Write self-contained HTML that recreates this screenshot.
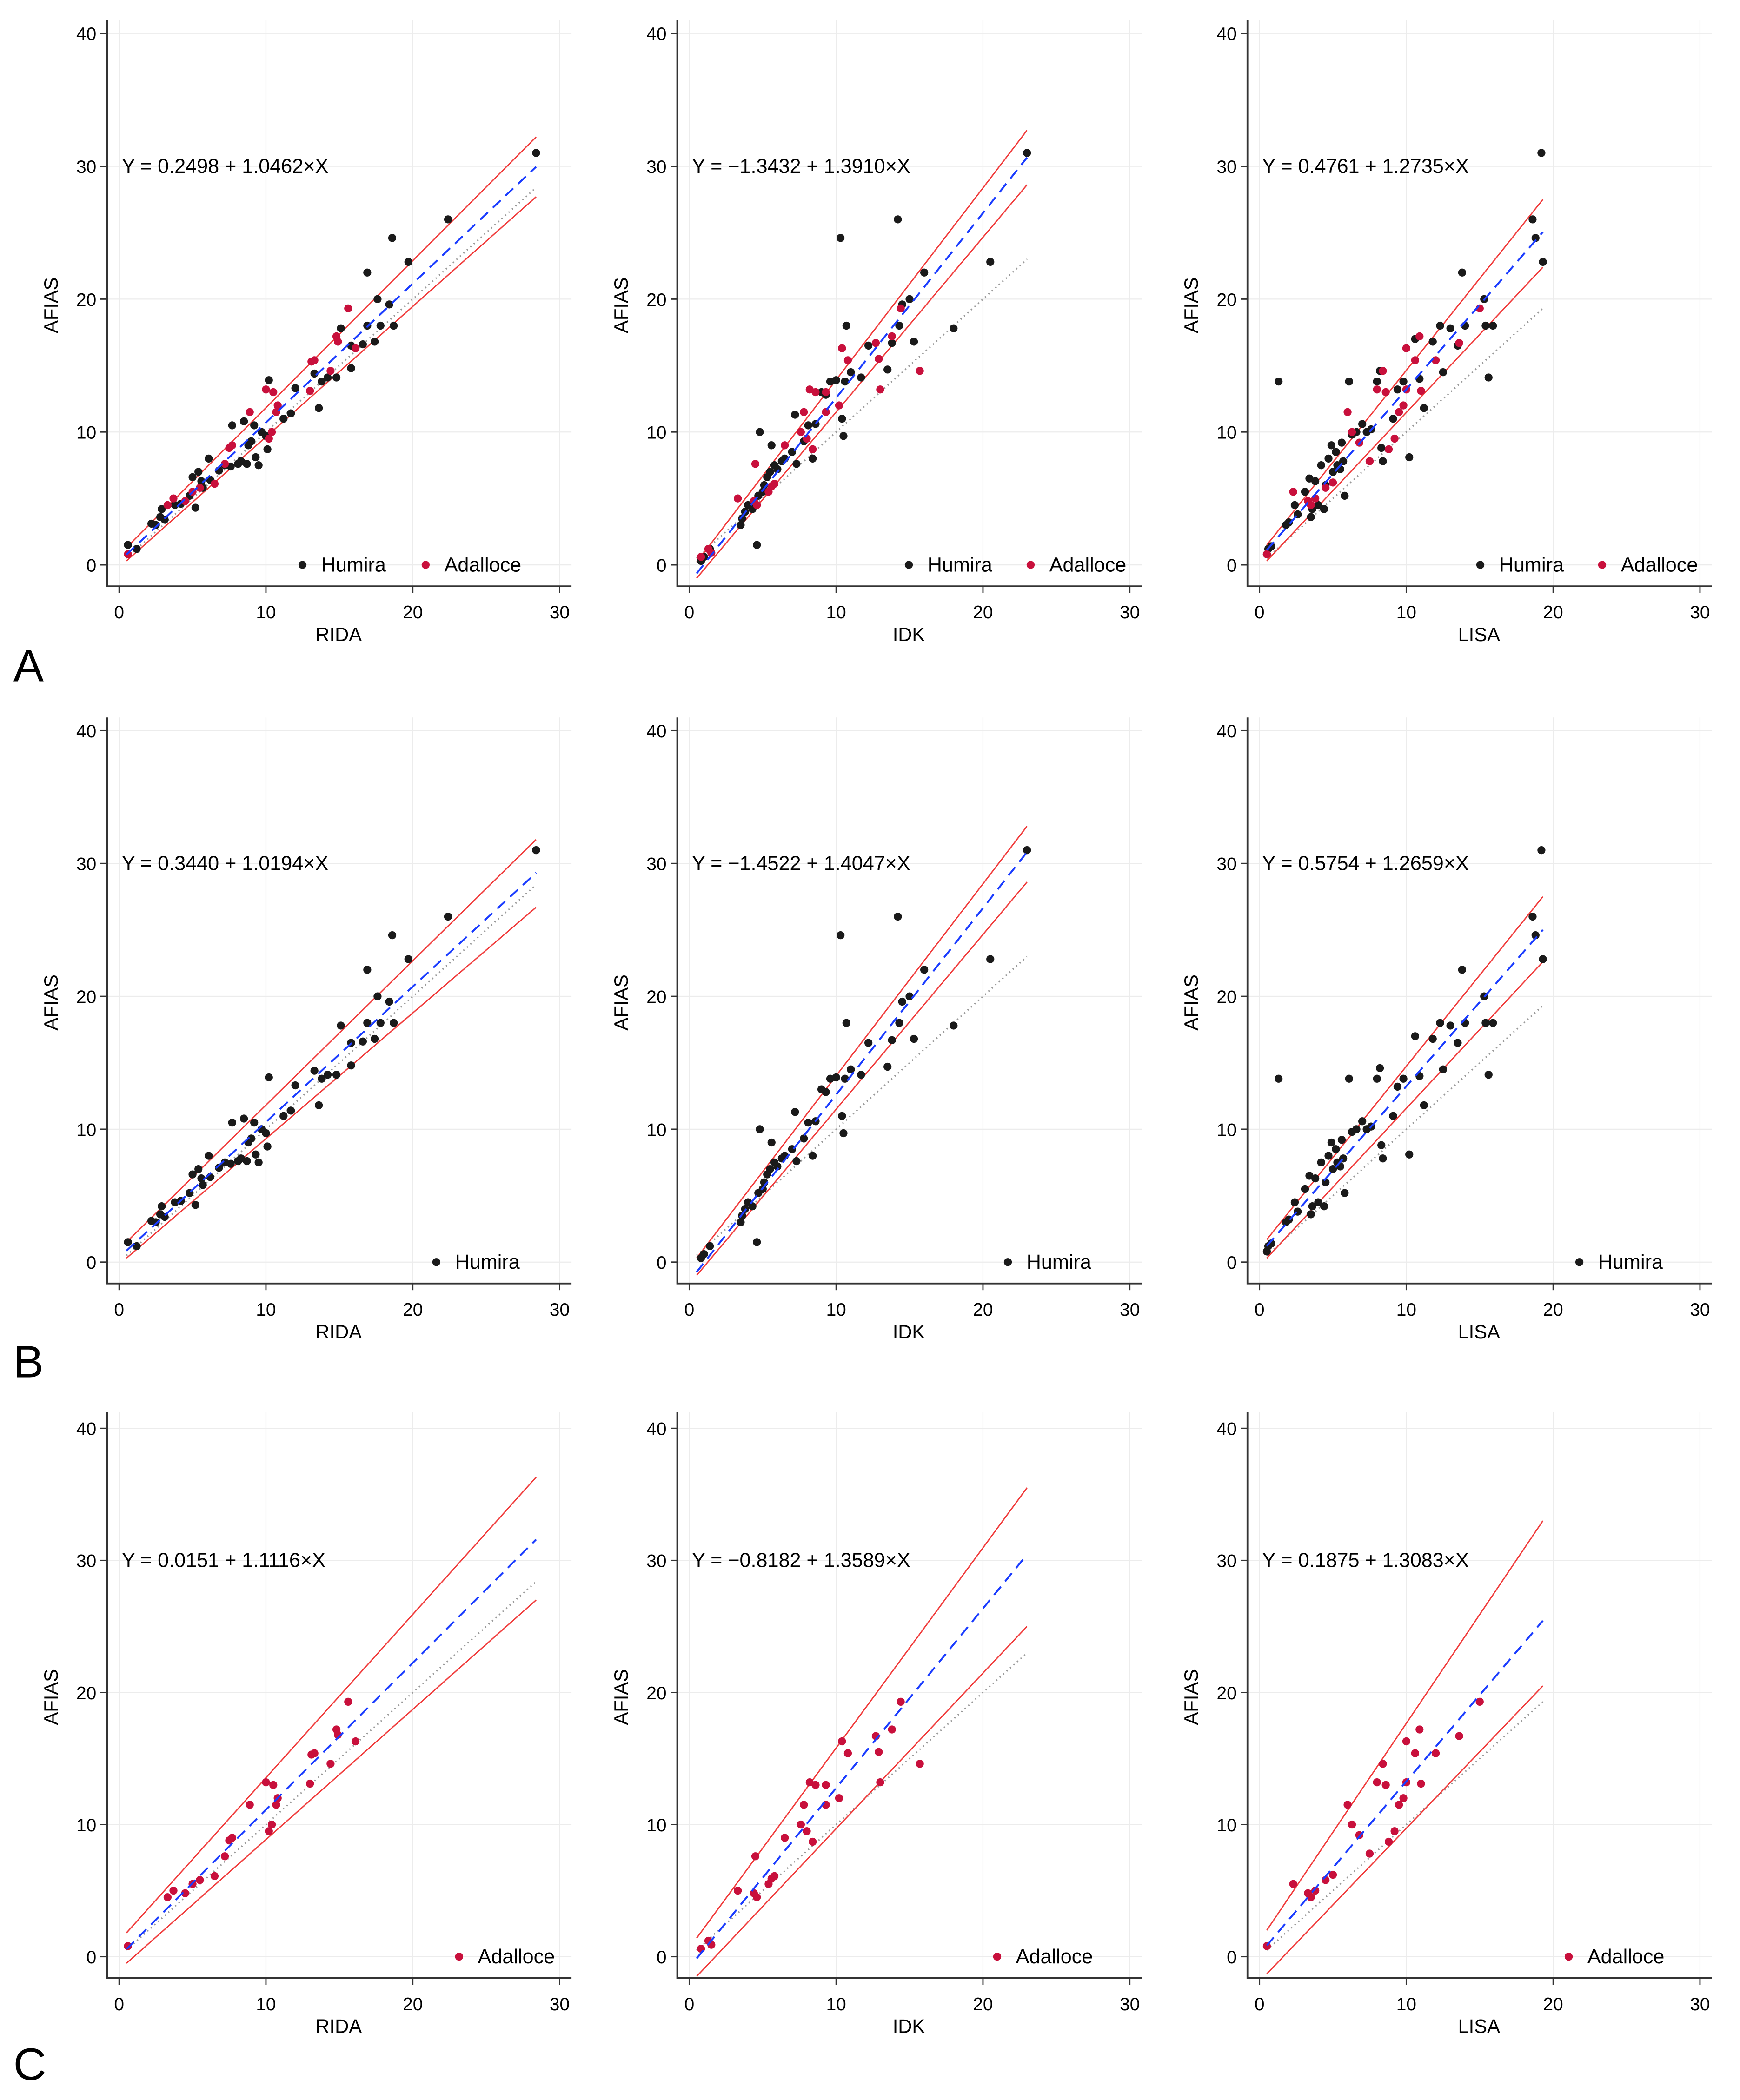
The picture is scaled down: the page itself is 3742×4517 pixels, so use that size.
<!DOCTYPE html>
<html><head><meta charset="utf-8"><style>
html,body{margin:0;padding:0;background:#fff;}
svg{display:block;font-family:"Liberation Sans",Arial,sans-serif;}
</style></head><body>
<svg id="fig" width="3742" height="4517" viewBox="0 0 1300 1569" xmlns="http://www.w3.org/2000/svg"></svg>
<script>
const xTicks=[0,10,20,30];
const yTicks=[0,10,20,30,40];
const methods=["RIDA","IDK","LISA"];
const rowLetters=["A","B","C"];
const humiraRIDA=[[0.6,1.5],[1.2,1.2],[2.2,3.1],[2.5,3.0],[2.8,3.6],[2.9,4.2],[3.1,3.4],[3.8,4.5],[4.2,4.6],[4.8,5.2],[5.0,6.6],[5.2,4.3],[5.4,7.0],[5.6,6.3],[5.7,5.8],[6.1,8.0],[6.2,6.4],[6.8,7.1],[7.2,7.5],[7.6,7.4],[7.7,10.5],[8.1,7.6],[8.3,7.8],[8.5,10.8],[8.7,7.6],[8.8,9.0],[9.0,9.3],[9.2,10.5],[9.3,8.1],[9.5,7.5],[9.7,10.0],[10.0,9.7],[10.1,8.7],[10.2,13.9],[11.2,11.0],[11.7,11.4],[12.0,13.3],[13.3,14.4],[13.6,11.8],[13.8,13.8],[14.2,14.1],[14.8,14.1],[15.1,17.8],[15.8,16.5],[15.8,14.8],[16.6,16.6],[16.9,22.0],[16.9,18.0],[17.4,16.8],[17.6,20.0],[17.8,18.0],[18.4,19.6],[18.6,24.6],[18.7,18.0],[19.7,22.8],[22.4,26.0],[28.4,31.0]];
const adallRIDA=[[0.6,0.8],[3.3,4.5],[3.7,5.0],[4.5,4.8],[5.0,5.5],[5.5,5.8],[6.5,6.1],[7.2,7.6],[7.5,8.8],[7.7,9.0],[8.9,11.5],[10.0,13.2],[10.5,13.0],[10.4,10.0],[10.2,9.5],[10.7,11.5],[10.8,12.0],[13.0,13.1],[13.1,15.3],[13.3,15.4],[14.4,14.6],[14.8,17.2],[14.9,16.8],[15.6,19.3],[16.1,16.3]];
const humiraIDK=[[0.8,0.3],[1.0,0.6],[1.4,1.2],[3.5,3.0],[3.6,3.5],[3.8,4.0],[4.0,4.5],[4.3,4.2],[4.6,1.5],[4.7,5.2],[4.8,10.0],[5.0,5.5],[5.1,6.0],[5.3,6.6],[5.5,7.0],[5.6,9.0],[5.8,7.5],[6.0,7.2],[6.3,7.8],[6.5,8.0],[7.0,8.5],[7.2,11.3],[7.3,7.6],[7.8,9.3],[8.1,10.5],[8.4,8.0],[8.6,10.6],[9.0,13.0],[9.3,12.8],[9.6,13.8],[10.0,13.9],[10.3,24.6],[10.4,11.0],[10.5,9.7],[10.6,13.8],[10.7,18.0],[11.0,14.5],[11.7,14.1],[12.2,16.5],[13.5,14.7],[13.8,16.7],[14.2,26.0],[14.3,18.0],[14.5,19.6],[15.0,20.0],[15.3,16.8],[16.0,22.0],[18.0,17.8],[20.5,22.8],[23.0,31.0]];
const adallIDK=[[0.8,0.6],[1.3,1.2],[1.5,0.9],[3.3,5.0],[4.4,4.8],[4.5,7.6],[4.6,4.5],[5.4,5.5],[5.6,5.9],[5.8,6.1],[6.5,9.0],[7.6,10.0],[7.8,11.5],[8.0,9.5],[8.2,13.2],[8.4,8.7],[8.6,13.0],[9.3,13.0],[9.3,11.5],[10.2,12.0],[10.4,16.3],[10.8,15.4],[12.7,16.7],[12.9,15.5],[13.0,13.2],[13.8,17.2],[14.4,19.3],[15.7,14.6]];
const humiraLISA=[[0.5,0.8],[0.6,1.2],[0.8,1.4],[1.3,13.8],[1.8,3.0],[2.0,3.2],[2.4,4.5],[2.6,3.8],[3.1,5.5],[3.4,6.5],[3.5,3.6],[3.6,4.2],[3.8,6.3],[4.0,4.5],[4.2,7.5],[4.4,4.2],[4.5,6.0],[4.7,8.0],[4.9,9.0],[5.0,7.0],[5.2,8.5],[5.3,7.5],[5.5,7.2],[5.6,9.2],[5.7,7.8],[5.8,5.2],[6.1,13.8],[6.3,9.8],[6.6,10.0],[7.0,10.6],[7.3,10.0],[7.6,10.2],[8.0,13.8],[8.2,14.6],[8.3,8.8],[8.4,7.8],[9.1,11.0],[9.4,13.2],[9.8,13.8],[10.2,8.1],[10.6,17.0],[10.9,14.0],[11.2,11.8],[11.8,16.8],[12.3,18.0],[12.5,14.5],[13.0,17.8],[13.5,16.5],[13.8,22.0],[14.0,18.0],[15.3,20.0],[15.4,18.0],[15.6,14.1],[15.9,18.0],[18.6,26.0],[19.2,31.0],[19.3,22.8],[18.8,24.6]];
const adallLISA=[[0.5,0.8],[2.3,5.5],[3.3,4.8],[3.5,4.5],[3.8,5.0],[4.5,5.8],[5.0,6.2],[6.0,11.5],[6.3,10.0],[6.8,9.2],[7.5,7.8],[8.0,13.2],[8.4,14.6],[8.6,13.0],[8.8,8.7],[9.2,9.5],[9.5,11.5],[9.8,12.0],[10.0,13.2],[10.0,16.3],[10.6,15.4],[10.9,17.2],[11.0,13.1],[12.0,15.4],[13.6,16.7],[15.0,19.3]];
const humiraSets=[humiraRIDA,humiraIDK,humiraLISA];
const adallSets=[adallRIDA,adallIDK,adallLISA];
const intercepts=[[0.2498,-1.3432,0.4761],[0.3440,-1.4522,0.5754],[0.0151,-0.8182,0.1875]];
const slopes=[[1.0462,1.3910,1.2735],[1.0194,1.4047,1.2659],[1.1116,1.3589,1.3083]];
const xMax=[28.4,23.0,19.3];
const ciUpper=[[[1.3,32.2],[0.2,32.7],[1.5,27.5]],[[1.5,31.8],[0.3,32.8],[1.7,27.5]],[[1.8,36.3],[1.4,35.5],[2.0,33.0]]];
const ciLower=[[[0.3,27.7],[-1.0,28.6],[0.3,22.4]],[[0.3,26.7],[-1.0,28.6],[0.3,22.6]],[[-0.5,27.0],[-1.5,25.0],[-1.3,20.5]]];

const NS="http://www.w3.org/2000/svg";
const svg=document.getElementById('fig');
function mk(tag,attrs,parent){const e=document.createElementNS(NS,tag);for(const k in attrs)e.setAttribute(k,attrs[k]);(parent||svg).appendChild(e);return e;}
const x0s=[89,515,941], y0s=[422,943,1462];
const xs=10.97, yss=[9.93,9.93,9.87];
const legOff=[[[137,229],[164,255],[165,256]],[[237],[238],[239]],[[254],[230],[231]]];
const fmt=v=>v<0?'\u2212'+Math.abs(v).toFixed(4):v.toFixed(4);
for(let r=0;r<3;r++){
 const ys=yss[r];
 const lt=mk('text',{x:10,y:[505,1025,1550][r]+4,'font-size':34,fill:'#000'});
 
 
 lt.textContent=rowLetters[r];
 for(let c=0;c<3;c++){
  const X=v=>x0s[c]+v*xs, Y=v=>y0s[r]-v*ys;
  const g=mk('g',{});
  
  
  const L=x0s[c]-9, B=y0s[r]+16, T=y0s[r]-407, R=x0s[c]+338;
  xTicks.forEach(t=>{const l=mk('line',{x1:X(t),x2:X(t),y1:T,y2:B,stroke:'#ececec','stroke-width':0.8},g);});
  yTicks.forEach(t=>{const l=mk('line',{x1:L,x2:R,y1:Y(t),y2:Y(t),stroke:'#ececec','stroke-width':0.8},g);});
  const ax=mk('path',{d:`M${L},${T} L${L},${B} L${R},${B}`,fill:'none',stroke:'#333','stroke-width':1.3},g);
  
  xTicks.forEach(t=>{mk('line',{x1:X(t),x2:X(t),y1:B,y2:B+5,stroke:'#333'},g);const tx=mk('text',{x:X(t),y:B+24,'font-size':13.5,'text-anchor':'middle',fill:'#000'},g);tx.textContent=t;});
  yTicks.forEach(t=>{mk('line',{x1:L-5,x2:L,y1:Y(t),y2:Y(t),stroke:'#333'},g);const tx=mk('text',{x:L-8,y:Y(t)+5,'font-size':13.5,'text-anchor':'end',fill:'#000'},g);tx.textContent=t;});
  const xt=mk('text',{x:x0s[c]+164,y:y0s[r]+57,'font-size':14.5,'text-anchor':'middle',fill:'#000'},g);
  xt.textContent=methods[c];
  const yt=mk('text',{x:0,y:0,'font-size':14.5,'text-anchor':'middle',fill:'#000',transform:`translate(${x0s[c]-46},${y0s[r]-194}) rotate(-90)`},g);
  yt.textContent='AFIAS';
  const a=intercepts[r][c], b=slopes[r][c], xm=xMax[c];
  const id=mk('line',{x1:X(0.5),y1:Y(0.5),x2:X(xm),y2:Y(xm),stroke:'#999','stroke-width':1.2,'stroke-dasharray':'1,2.5'},g);
  
  const cu=mk('line',{x1:X(0.5),y1:Y(ciUpper[r][c][0]),x2:X(xm),y2:Y(ciUpper[r][c][1]),stroke:'#f03c3c','stroke-width':1},g);
  
  const cl=mk('line',{x1:X(0.5),y1:Y(ciLower[r][c][0]),x2:X(xm),y2:Y(ciLower[r][c][1]),stroke:'#f03c3c','stroke-width':1},g);
  
  const drawPts=(pts,col,nm)=>pts.forEach(p=>{const d=mk('circle',{cx:X(p[0]),cy:Y(p[1]),r:3,fill:col},g);});
  if(r!==2) drawPts(humiraSets[c],'#1a1a1a','humira-point');
  if(r!==1) drawPts(adallSets[c],'#c8103c','adalloce-point');
  const rl=mk('line',{x1:X(0.5),y1:Y(a+b*0.5),x2:X(xm),y2:Y(a+b*xm),stroke:'#1a3cff','stroke-width':1.4,'stroke-dasharray':'8,5'},g);
  
  const eq=mk('text',{x:x0s[c]+2,y:Y(30)+5,'font-size':15,fill:'#000'},g);
  
  eq.textContent='Y = '+fmt(a)+' + '+b.toFixed(4)+'\u00d7X';
  const ly=y0s[r];
  const leg=[];
  const off=legOff[r][c];
  if(r===0){leg.push(['Humira','#1a1a1a',off[0]],['Adalloce','#c8103c',off[1]]);}
  else if(r===1){leg.push(['Humira','#1a1a1a',off[0]]);}
  else{leg.push(['Adalloce','#c8103c',off[0]]);}
  leg.forEach(e=>{
   const lg=mk('g',{},g);
   mk('circle',{cx:x0s[c]+e[2],cy:ly,r:3,fill:e[1]},lg);
   const t=mk('text',{x:x0s[c]+e[2]+14,y:ly+5,'font-size':15,fill:'#000'},lg);t.textContent=e[0];
  });
 }
}
</script>
</body></html>
